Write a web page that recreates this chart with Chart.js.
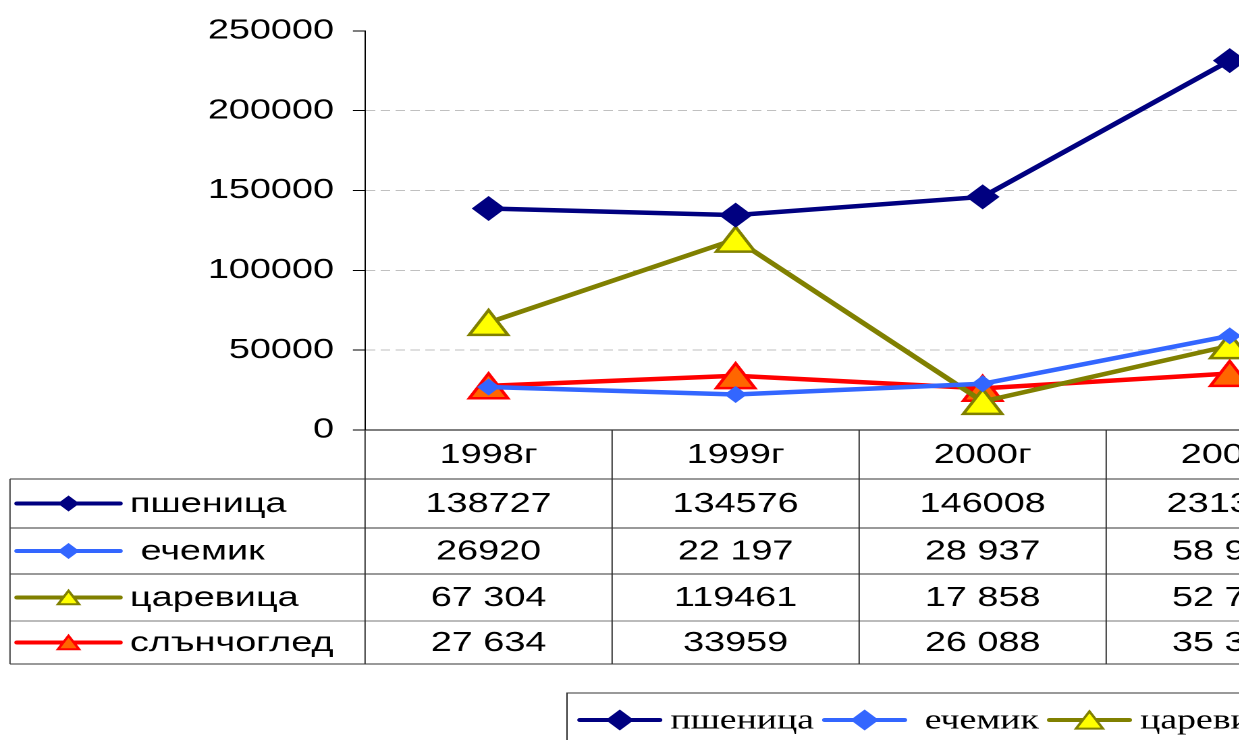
<!DOCTYPE html>
<html><head><meta charset="utf-8">
<script src="https://cdn.jsdelivr.net/npm/chart.js@4/dist/chart.umd.min.js"></script>
<style>
html,body{margin:0;padding:0;overflow:hidden;background:#fff;width:1239px;height:740px;}
#wrap{position:absolute;left:0;top:0;width:1040px;height:740px;transform:scaleX(1.35);transform-origin:0 0;}
</style></head><body>
<div id="wrap"><canvas id="c"></canvas></div>
<script>
const categories = ["1998г", "1999г", "2000г", "2001г"];
const seriesNames = ["пшеница", " ечемик", "царевица", "слънчоглед"];
const wheat = [138727, 134576, 146008, 231350];
const barley = [26920, 22197, 28937, 58980];
const maize = [67304, 119461, 17858, 52750];
const sunflower = [27634, 33959, 26088, 35350];
const wheatLabels = ["138727", "134576", "146008", "231350"];
const barleyLabels = ["26920", "22 197", "28 937", "58 980"];
const maizeLabels = ["67 304", "119461", "17 858", "52 750"];
const sunflowerLabels = ["27 634", "33959", "26 088", "35 350"];
const yTicks = [0, 50000, 100000, 150000, 200000, 250000];

const SANS = "'Liberation Sans', Arial, sans-serif";
const SERIF = "'Liberation Serif', 'Times New Roman', serif";

function drawMarker(ctx, style, x, y, r, fill, stroke, bw) {
  ctx.save();
  ctx.beginPath();
  if (style === 'rectRot') {
    ctx.moveTo(x - r, y); ctx.lineTo(x, y - r); ctx.lineTo(x + r, y); ctx.lineTo(x, y + r);
  } else {
    // triangle centred on its bounding box
    const w = r * Math.sin(2 * Math.PI / 3);
    const cy = y + r / 4;
    ctx.moveTo(x, cy - r); ctx.lineTo(x + w, cy + r / 2); ctx.lineTo(x - w, cy + r / 2);
  }
  ctx.closePath();
  ctx.fillStyle = fill; ctx.fill();
  if (bw) { ctx.lineWidth = bw; ctx.strokeStyle = stroke; ctx.lineJoin = 'miter'; ctx.stroke(); }
  ctx.restore();
}

function drawKey(ctx, ds, x0, x1, y, r) {
  ctx.save();
  ctx.strokeStyle = ds.borderColor; ctx.lineWidth = 4; ctx.lineCap = 'round';
  ctx.beginPath(); ctx.moveTo(x0, y); ctx.lineTo(x1, y); ctx.stroke();
  ctx.restore();
  const tri = ds.markerStyle === 'triangle';
  drawMarker(ctx, ds.markerStyle, (x0 + x1) / 2, y, tri ? r + 1 : r, ds.markerFill, ds.markerStroke, tri ? 2 : 0);
}

const markerPlugin = {
  id: 'markers',
  afterDatasetDraw(chart, args) {
    const ds = chart.data.datasets[args.index];
    const ctx = chart.ctx;
    args.meta.data.forEach(pt => {
      drawMarker(ctx, ds.markerStyle, pt.x, pt.y, ds.markerRadius, ds.markerFill, ds.markerStroke, ds.markerBorder);
    });
  }
};

const tablePlugin = {
  id: 'dataTable',
  beforeDraw(chart) {
    const ctx = chart.ctx;
    ctx.save(); ctx.fillStyle = '#fff'; ctx.fillRect(0, 0, chart.width, chart.height); ctx.restore();
  },
  afterDraw(chart) {
    const ctx = chart.ctx, ca = chart.chartArea, xs = chart.scales.x;
    const n = chart.data.labels.length;
    const band = (ca.right - ca.left) / n;
    const tableLeft = 7.4;
    const rowH = [49, 49, 46, 47, 43];
    const ys = [ca.bottom];
    rowH.forEach(h => ys.push(ys[ys.length - 1] + h));
    ctx.save();
    ctx.lineWidth = 1;
    const line = (x1, y1, x2, y2, c) => { ctx.strokeStyle = c; ctx.beginPath(); ctx.moveTo(x1, y1); ctx.lineTo(x2, y2); ctx.stroke(); };
    line(ca.left, ys[0], ca.right, ys[0], '#000');
    for (let i = 1; i < ys.length; i++) line(tableLeft, ys[i], ca.right, ys[i], i === 4 ? '#777' : '#333');
    line(tableLeft, ys[1], tableLeft, ys[ys.length - 1], '#444');
    for (let k = 0; k <= n; k++) { const xk = ca.left + k * band; line(xk, ys[0], xk, ys[ys.length - 1], '#333'); }
    ctx.fillStyle = '#000';
    ctx.font = "28px " + SANS;
    ctx.textAlign = 'center'; ctx.textBaseline = 'middle';
    chart.data.labels.forEach((l, i) => ctx.fillText(l, xs.getPixelForValue(i), (ys[0] + ys[1]) / 2 + 1));
    chart.data.datasets.forEach((ds, r) => {
      const cy = (ys[r + 1] + ys[r + 2]) / 2;
      drawKey(ctx, ds, 12.6, 88.9, cy, 8);
      ctx.fillStyle = '#000';
      ctx.textAlign = 'left';
      ctx.fillText(ds.label, 96.3, cy + 1);
      ctx.textAlign = 'center';
      ds.tableLabels.forEach((t, i) => ctx.fillText(t, xs.getPixelForValue(i), cy + 1));
    });
    // bottom legend
    const lx = 420, ly = 693;
    ctx.strokeStyle = '#333'; ctx.lineWidth = 1;
    ctx.strokeRect(lx, ly, chart.width - lx + 20, 80);
    ctx.font = "28px " + SERIF;
    ctx.textAlign = 'left';
    let x = lx + 9.6;
    const cy = 720;
    chart.data.datasets.forEach(ds => {
      drawKey(ctx, ds, x, x + 59, cy, 10.5);
      ctx.fillStyle = '#000';
      ctx.fillText(ds.label, x + 67, cy + 1);
      x += 67 + ctx.measureText(ds.label).width + 8;
    });
    ctx.restore();
  }
};

const datasets = [
  { label: seriesNames[0], data: wheat, tableLabels: wheatLabels, borderColor: '#000080', markerStyle: 'rectRot', markerFill: '#000080', markerStroke: '#000080', markerRadius: 12.5, markerBorder: 0 },
  { label: seriesNames[1], data: barley, tableLabels: barleyLabels, borderColor: '#3366FF', markerStyle: 'rectRot', markerFill: '#3366FF', markerStroke: '#3366FF', markerRadius: 8.5, markerBorder: 0 },
  { label: seriesNames[2], data: maize, tableLabels: maizeLabels, borderColor: '#808000', markerStyle: 'triangle', markerFill: '#FFFF00', markerStroke: '#808000', markerRadius: 16.5, markerBorder: 2.5 },
  { label: seriesNames[3], data: sunflower, tableLabels: sunflowerLabels, borderColor: '#FF0000', markerStyle: 'triangle', markerFill: '#FF6600', markerStroke: '#FF0000', markerRadius: 16.5, markerBorder: 2.5 }
].map(d => Object.assign({ borderWidth: 4.5, tension: 0, fill: false, pointRadius: 0, pointHoverRadius: 0 }, d));

new Chart(document.getElementById('c'), {
  type: 'line',
  data: { labels: categories, datasets: datasets },
  options: {
    responsive: true,
    maintainAspectRatio: false,
    devicePixelRatio: 2,
    animation: false,
    layout: { padding: { left: 0, top: 30, right: 37.6, bottom: 310 } },
    plugins: { legend: { display: false }, tooltip: { enabled: false } },
    scales: {
      x: { type: 'category', display: false, offset: true },
      y: {
        min: 0, max: 250000,
        afterBuildTicks: s => { s.ticks = yTicks.map(v => ({ value: v })); },
        afterFit: s => { s.width = 270.4; },
        ticks: { color: '#000', font: { family: SANS, size: 28 }, padding: 14, callback: v => String(v) },
        grid: {
          color: c => (c.tick && (c.tick.value === 0 || c.tick.value === 250000)) ? 'rgba(0,0,0,0)' : '#c0c0c0',
          tickColor: '#000', tickLength: 9, lineWidth: 1
        },
        border: { display: true, color: '#000', width: 1, dash: [7, 4] }
      }
    }
  },
  plugins: [markerPlugin, tablePlugin]
});
</script>
</body></html>
